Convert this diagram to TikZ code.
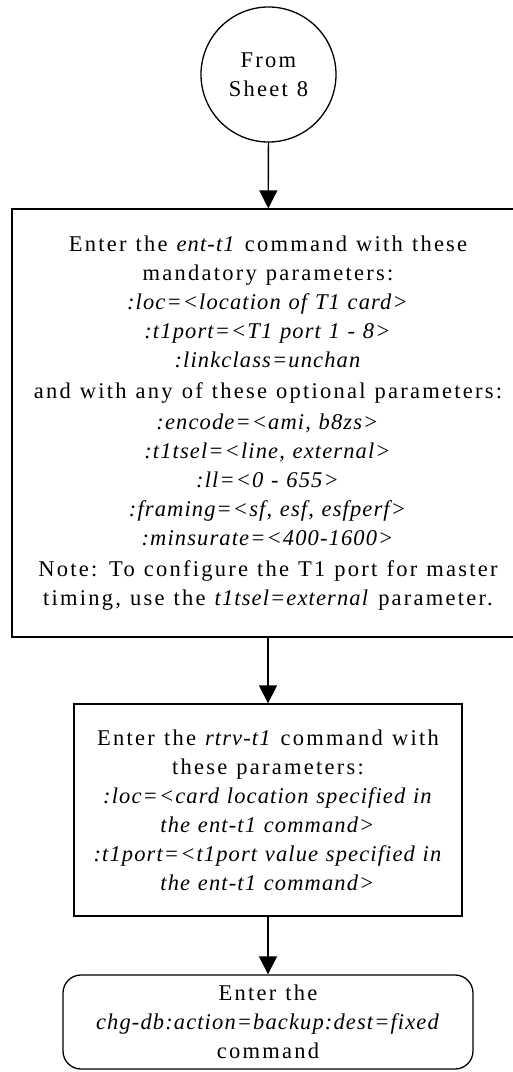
\documentclass[tikz,border=0pt]{standalone}
\usepackage{fontspec}
\setmainfont{Liberation Serif}[LetterSpace=10, WordSpace=1.15, ItalicFeatures={LetterSpace=5}]
\usetikzlibrary{arrows.meta}
\begin{document}
\begin{tikzpicture}[x=1pt,y=1pt,
  every node/.style={font=\fontsize{22.5}{29}\selectfont, align=center, inner sep=0pt},
  boxnode/.style={draw, line width=1.3pt, rectangle},
  startnode/.style={draw, line width=1.3pt, circle, minimum size=135pt},
  endnode/.style={draw, line width=1.3pt, rectangle, rounded corners=18pt},
  flow/.style={line width=1.3pt, -{Triangle[length=18pt,width=18pt]}}]
\useasboundingbox (0,0) rectangle (513,-1072);
\node[startnode] (c) at (268.5,-74.5) {From\\Sheet 8};
\node[boxnode, minimum width=512pt, minimum height=428pt] (b1) at (268,-423) {Enter the \textit{ent-t1} command with these\\
mandatory parameters:\\
\textit{:loc=<location of T1 card>}\\
\textit{:t1port=<T1 port 1 - 8>}\\
\textit{:linkclass=unchan}\\[2pt]
and with any of these optional parameters:\\[2pt]
\textit{:encode=<ami, b8zs>}\\
\textit{:t1tsel=<line, external>}\\
\textit{:ll=<0 - 655>}\\
\textit{:framing=<sf, esf, esfperf>}\\
\textit{:minsurate=<400-1600>}\\[2pt]
Note: To configure the T1 port for master\\
timing, use the \textit{t1tsel=external} parameter.};
\node[boxnode, minimum width=388pt, minimum height=212pt] (b2) at (268,-810) {Enter the \textit{rtrv-t1} command with\\
these parameters:\\
\textit{:loc=<card location specified in}\\
\textit{the ent-t1 command>}\\
\textit{:t1port=<t1port value specified in}\\
\textit{the ent-t1 command>}};
\node[endnode, minimum width=410pt, minimum height=94pt] (b3) at (268,-1022) {Enter the\\
\textit{chg-db:action=backup:dest=fixed}\\
command};
\draw[flow] (c) -- (b1);
\draw[flow] (b1) -- (b2);
\draw[flow] (b2) -- (b3);
\end{tikzpicture}
\end{document}
